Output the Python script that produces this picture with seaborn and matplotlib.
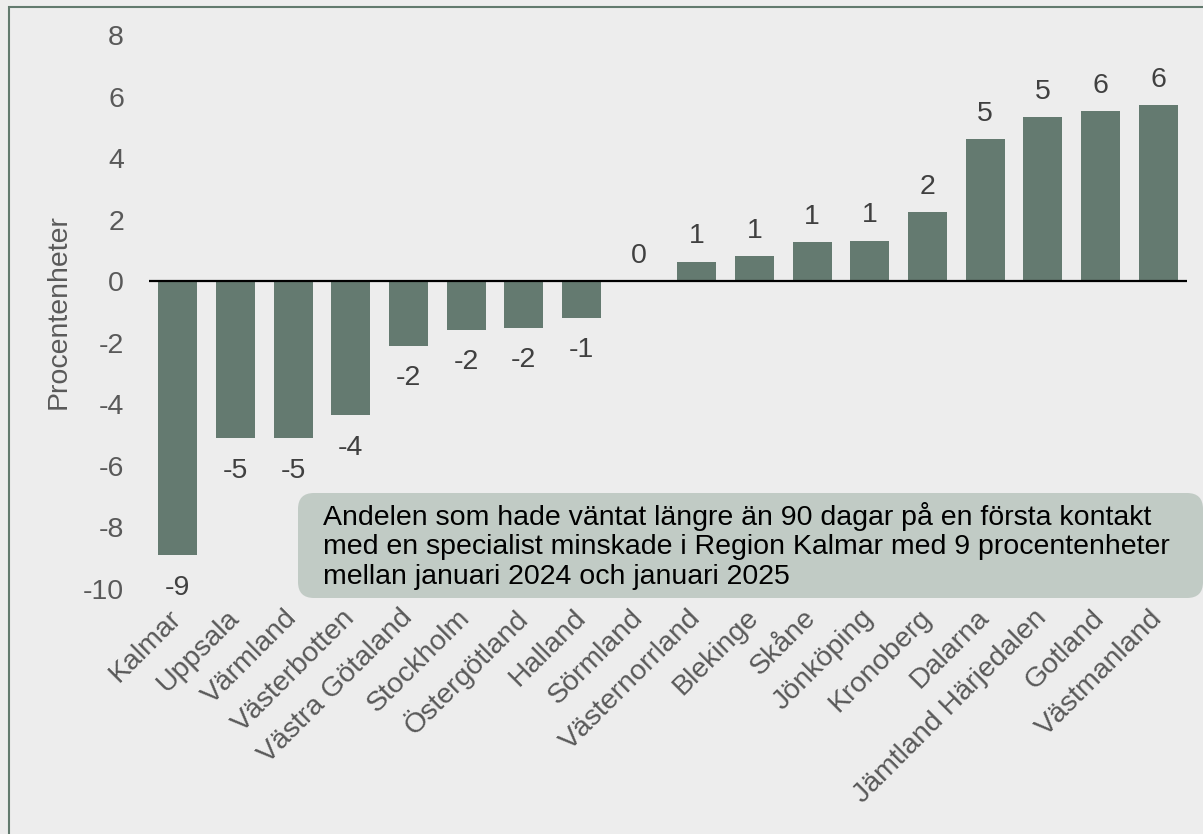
import matplotlib
matplotlib.use("Agg")
import matplotlib.pyplot as plt
import seaborn as sns
import pandas as pd
from matplotlib.patches import FancyBboxPatch, Rectangle
from matplotlib.transforms import IdentityTransform

regions = ["Kalmar", "Uppsala", "Värmland", "Västerbotten", "Västra Götaland",
           "Stockholm", "Östergötland", "Halland", "Sörmland", "Västernorrland",
           "Blekinge", "Skåne", "Jönköping", "Kronoberg", "Dalarna",
           "Jämtland Härjedalen", "Gotland", "Västmanland"]
values = [-8.9, -5.1, -5.1, -4.35, -2.1, -1.57, -1.52, -1.18, 0.0, 0.63,
          0.81, 1.27, 1.32, 2.24, 4.61, 5.32, 5.52, 5.71]
yticks = [-10, -8, -6, -4, -2, 0, 2, 4, 6, 8]
ylabel = "Procentenheter"
note = ("Andelen som hade väntat längre än 90 dagar på en första kontakt\n"
        "med en specialist minskade i Region Kalmar med 9 procentenheter\n"
        "mellan januari 2024 och januari 2025")

BG = "#ededed"
BAR = "#647a70"
BOX = "#c1cbc5"
BORDER = "#627a6e"

sns.set_style("white", {"axes.facecolor": BG, "figure.facecolor": BG})
plt.rcParams["font.family"] = ["Liberation Sans", "DejaVu Sans"]
plt.rcParams["axes.unicode_minus"] = False

fig = plt.figure(figsize=(12.03, 8.34), dpi=100)
W, H = 1203, 834
ax = fig.add_axes([149 / W, 1 - 589 / H, 1038 / W, 554 / H])

df = pd.DataFrame({"region": regions, "value": values})
sns.barplot(data=df, x="region", y="value", order=regions, color=BAR,
            saturation=1, width=0.68, linewidth=0, ax=ax)

ax.set_xlim(-0.5, 17.5)
ax.set_ylim(-10, 8)
ax.set_yticks(yticks)
ax.axhline(0, color="black", lw=1.6, zorder=3)
for s in ax.spines.values():
    s.set_visible(False)

ax.set_xlabel("")
ax.set_ylabel(ylabel, fontsize=20.5, color="#595959", labelpad=8)
ax.tick_params(axis="y", length=0, pad=18, labelsize=20.5, labelcolor="#595959")
ax.tick_params(axis="x", length=0, pad=18, labelsize=20.5, labelcolor="#595959")
for lab in ax.get_xticklabels():
    lab.set_rotation(45)
    lab.set_ha("right")
    lab.set_va("center")
    lab.set_rotation_mode("anchor")

bars = ax.containers[0]
pos_labels = ["%.0f" % v if v >= 0 else "" for v in values]
neg_labels = ["%.0f" % v if v < 0 else "" for v in values]
ax.bar_label(bars, labels=pos_labels, padding=9, fontsize=20.5, color="#404040")
ax.bar_label(bars, labels=neg_labels, padding=14, fontsize=20.5, color="#404040")

# outer border
fig.add_artist(Rectangle((9, -20), 1400, H - 7 + 20, transform=IdentityTransform(),
                         fill=False, ec=BORDER, lw=1.5))

# annotation box
fig.add_artist(FancyBboxPatch((298, H - 598), 905, 105,
                              boxstyle="round,pad=0,rounding_size=16",
                              fc=BOX, ec="none", transform=IdentityTransform()))
fig.text(323 / W, 1 - 546 / H, note, ha="left", va="center", fontsize=20.5,
         linespacing=1.17, color="black")

fig.savefig("out.png", dpi=100, facecolor=BG)
